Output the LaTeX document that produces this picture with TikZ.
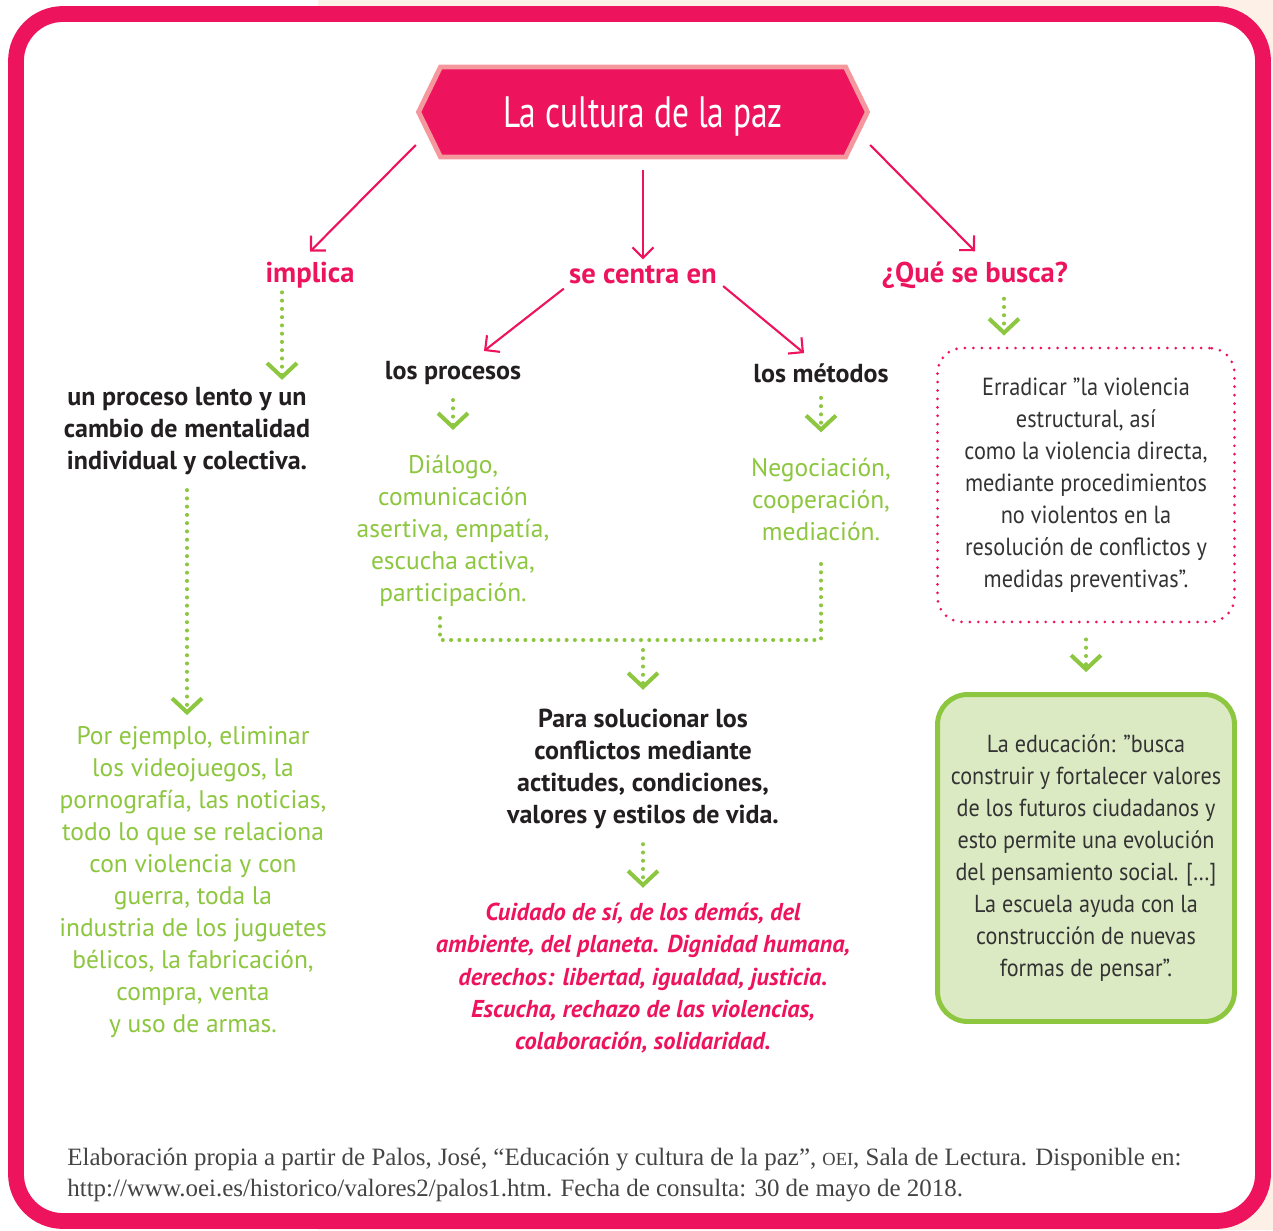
\documentclass[tikz,border=0pt]{standalone}
\usepackage{fontspec}
\setmainfont{PT Sans}
\newfontfamily\titlefont[FakeStretch=0.76]{PT Sans}
\newfontfamily\boxfont[FakeStretch=0.9]{PT Sans}
\newfontfamily\notefont{Liberation Serif}
\usetikzlibrary{arrows.meta,shapes.symbols}

\definecolor{pazpink}{RGB}{237,20,93}
\definecolor{softpink}{RGB}{245,152,157}
\definecolor{leafgreen}{RGB}{141,198,63}
\definecolor{mintfill}{RGB}{220,234,196}
\definecolor{inkdark}{RGB}{35,31,32}
\definecolor{boxgray}{RGB}{51,51,51}
\definecolor{notegray}{RGB}{68,68,68}
\definecolor{pagebeige}{RGB}{253,241,231}

\begin{document}
\begin{tikzpicture}[x=0.02cm,y=-0.02cm,
  pinkarrow/.style={draw=pazpink,line width=1.2pt,-{Straight Barb[length=6pt,width=12pt]}},
  dotline/.style={draw=leafgreen,line width=2.3pt,line cap=round,dash pattern=on 0pt off 4.7pt},
  dotarrow/.style={dotline,-{Straight Barb[length=8pt,width=17pt,line width=2.3pt]}},
  pinklabel/.style={text=pazpink,font=\fontsize{16.3}{18}\selectfont\bfseries,inner sep=0pt},
  darkbold/.style={text=inkdark,font=\fontsize{14.8}{18.2}\selectfont\bfseries,align=center,inner sep=0pt},
  greentext/.style={text=leafgreen,font=\fontsize{14.5}{18.2}\selectfont,align=center,inner sep=0pt},
  pinkitalic/.style={text=pazpink,font=\fontsize{13.9}{18.3}\selectfont\bfseries\itshape,align=center,inner sep=0pt},
  quotebox/.style={draw=pazpink,line width=1.7pt,line cap=round,dash pattern=on 0pt off 4.8pt,
    rounded corners=0.5cm,minimum width=5.94cm,minimum height=5.48cm,align=center,
    text=boxgray,font=\boxfont\fontsize{14.1}{18.2}\selectfont},
  greenbox/.style={draw=leafgreen,fill=mintfill,line width=2.8pt,rounded corners=0.6cm,
    minimum width=5.94cm,minimum height=6.54cm,align=center,
    text=boxgray,font=\boxfont\fontsize{14}{18.2}\selectfont},
  titlebox/.style={signal,signal to=west and east,signal pointer angle=128,
    draw=softpink,fill=pazpink,line width=2.8pt,minimum width=8.98cm,minimum height=1.8cm,
    text depth=0pt,text=white,font=\titlefont\fontsize{25}{28}\selectfont}]
\useasboundingbox (0,0) rectangle (1273,1230);

% page and frame
\fill[white] (0,0) rectangle (1273,1230);
\fill[pagebeige] (318,0) rectangle (1273,1230);
\draw[pazpink,fill=white,line width=9pt,rounded corners=0.94cm] (16,14) rectangle (1263,1221);

% title
\node[titlebox] (paz) at (643,112) {La cultura de la paz};

% labels
\node[pinklabel] (implica) at (310,275) {implica};
\node[pinklabel] (centra) at (643,275) {se centra en};
\node[pinklabel] (busca) at (975,275) {¿Qué se busca?};
\node[darkbold] (procesos) at (453,373) {los procesos};
\node[darkbold] (metodos) at (821,373) {los métodos};

% texts
\node[darkbold] (proceso) at (187,431) {un proceso lento y un\\cambio de mentalidad\\individual y colectiva.};
\node[greentext] (ejemplo) at (193,882) {Por ejemplo, eliminar\\los videojuegos, la\\pornografía, las noticias,\\todo lo que se relaciona\\con violencia y con\\guerra, toda la\\industria de los juguetes\\bélicos, la fabricación,\\compra, venta\\y uso de armas.};
\node[greentext] (dialogo) at (453,531) {Diálogo,\\comunicación\\asertiva, empatía,\\escucha activa,\\participación.};
\node[greentext] (negociacion) at (821,499) {Negociación,\\cooperación,\\mediación.};
\node[darkbold] (solucionar) at (643,769) {Para solucionar los\\conflictos mediante\\actitudes, condiciones,\\valores y estilos de vida.};
\node[pinkitalic] (cuidado) at (643,978) {Cuidado de sí, de los demás, del\\ambiente, del planeta. Dignidad humana,\\derechos: libertad, igualdad, justicia.\\Escucha, rechazo de las violencias,\\colaboración, solidaridad.};
\node[quotebox] (erradicar) at (1086,485) {Erradicar ”la violencia\\estructural, así\\como la violencia directa,\\mediante procedimientos\\no violentos en la\\resolución de conflictos y\\medidas preventivas”.};
\node[greenbox] (educacion) at (1086,858) {La educación: ”busca\\construir y fortalecer valores\\de los futuros ciudadanos y\\esto permite una evolución\\del pensamiento social. […]\\La escuela ayuda con la\\construcción de nuevas\\formas de pensar”.};
\coordinate (join) at (643,640);

% pink arrows
\draw[pinkarrow] ([yshift=-0.66cm]paz.west) -- ([yshift=0.2cm]implica.north);
\draw[pinkarrow] ([yshift=-0.22cm]paz.south) -- ([yshift=0.12cm]centra.north);
\draw[pinkarrow] ([yshift=-0.66cm]paz.east) -- ([yshift=0.2cm]busca.north);
\draw[pinkarrow] ([xshift=-0.1cm,yshift=-0.08cm]centra.south west) -- ([xshift=0.62cm,yshift=0.2cm]procesos.north);
\draw[pinkarrow] ([xshift=0.12cm,yshift=-0.03cm]centra.south east) -- ([xshift=-0.34cm,yshift=0.2cm]metodos.north);

% green dotted arrows
\draw[dotarrow] ([xshift=-0.56cm,yshift=-0.08cm]implica.south) -- ([xshift=-0.56cm,yshift=0.14cm]implica.south |- proceso.north);
\draw[dotarrow] ([yshift=-0.3cm]proceso.south) -- ([yshift=0.22cm]proceso.south |- ejemplo.north);
\draw[dotarrow] ([yshift=-0.3cm]procesos.south) -- ([yshift=0.5cm]dialogo.north);
\draw[dotarrow] ([yshift=-0.3cm]metodos.south) -- ([yshift=0.5cm]negociacion.north);
\draw[dotline] ([xshift=-0.26cm,yshift=-0.22cm]dialogo.south) |- (join) -| ([yshift=-0.34cm]negociacion.south);
\draw[dotarrow] ([yshift=-0.2cm]join) -- ([yshift=0.38cm]solucionar.north);
\draw[dotarrow] ([yshift=-0.3cm]solucionar.south) -- ([yshift=0.3cm]cuidado.north);
\draw[dotarrow] ([xshift=0.58cm,yshift=-0.2cm]busca.south) -- ([xshift=0.58cm,yshift=0.22cm]busca.south |- erradicar.north);
\draw[dotarrow] ([yshift=-0.32cm]erradicar.south) -- ([yshift=0.4cm]educacion.north);

% source note
\node[anchor=west,align=left,inner sep=0pt,text=notegray,font=\notefont\fontsize{14.2}{17.6}\selectfont] (fuente) at (67,1175)
  {Elaboración propia a partir de Palos, José, “Educación y cultura de la paz”, {\fontsize{10.5}{11}\selectfont OEI}, Sala de Lectura. Disponible en:\\http://www.oei.es/historico/valores2/palos1.htm. Fecha de consulta: 30 de mayo de 2018.};

\end{tikzpicture}
\end{document}
